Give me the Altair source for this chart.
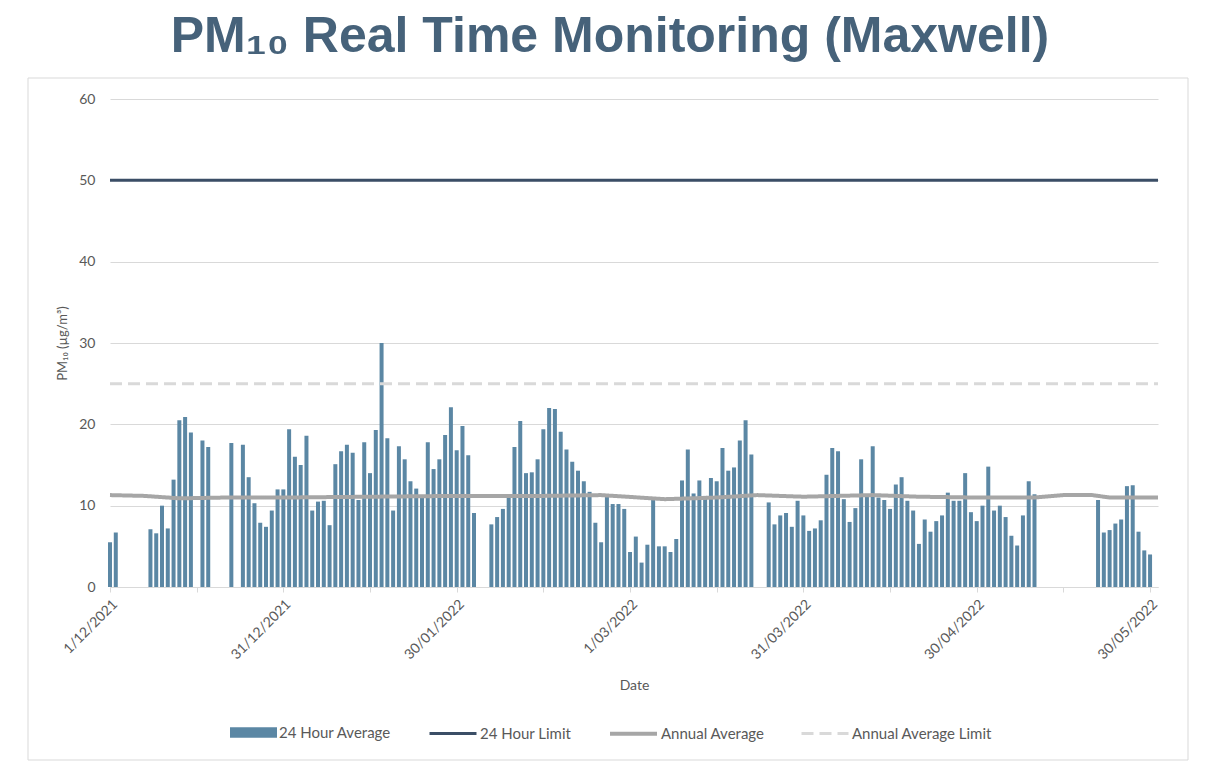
import altair as alt
import pandas as pd

# ---- data ----
start_date = "2021-12-01"
daily_pm10 = [
    5.5, 6.7, None, None, None, None, None, 7.1, 6.6, 10.0,
    7.2, 13.2, 20.5, 20.9, 19.0, None, 18.0, 17.2, None, None,
    None, 17.7, None, 17.5, 13.5, 10.3, 7.9, 7.4, 9.4, 12.0,
    12.0, 19.4, 16.0, 15.0, 18.6, 9.4, 10.5, 10.6, 7.6, 15.1,
    16.7, 17.5, 16.5, 10.7, 17.8, 14.0, 19.3, 30.0, 18.3, 9.4,
    17.3, 15.7, 13.0, 12.1, 11.3, 17.8, 14.5, 15.7, 18.7, 22.1,
    16.8, 19.8, 16.2, 9.1, None, None, 7.7, 8.6, 9.6, 11.1,
    17.2, 20.4, 14.0, 14.1, 15.7, 19.4, 22.0, 21.9, 19.1, 16.9,
    15.4, 14.3, 13.0, 11.7, 7.9, 5.5, 11.1, 10.2, 10.2, 9.6,
    4.3, 6.2, 3.0, 5.2, 10.7, 5.0, 5.0, 4.3, 5.9, 13.1,
    16.9, 11.5, 13.1, 11.2, 13.4, 13.0, 17.1, 14.3, 14.7, 18.0,
    20.5, 16.3, None, None, 10.4, 7.7, 8.8, 9.1, 7.4, 10.6,
    8.8, 6.9, 7.2, 8.2, 13.8, 17.1, 16.7, 10.8, 8.0, 9.7,
    15.7, 11.2, 17.3, 11.0, 10.7, 9.6, 12.6, 13.5, 10.6, 9.4,
    5.3, 8.3, 6.8, 8.1, 8.8, 11.6, 10.6, 10.6, 14.0, 9.2,
    8.1, 10.0, 14.8, 9.4, 10.0, 8.6, 6.3, 5.1, 8.8, 13.0,
    11.4, None, None, None, None, None, None, None, None, None,
    None, 10.7, 6.7, 7.0, 7.8, 8.3, 12.4, 12.5, 6.8, 4.5,
    4.0,
]

annual_avg_dates = [
    "2021-12-01", "2021-12-07", "2021-12-13", "2021-12-21", "2021-12-31",
    "2022-01-15", "2022-01-30", "2022-02-14", "2022-02-24", "2022-03-07",
    "2022-03-16", "2022-03-23", "2022-03-31", "2022-04-12", "2022-04-20",
    "2022-04-30", "2022-05-10", "2022-05-15", "2022-05-20", "2022-05-23",
    "2022-05-31 09:00",
]
annual_avg_values = [
    11.3, 11.2, 10.9, 11.0, 11.0,
    11.1, 11.2, 11.2, 11.3, 10.8,
    11.0, 11.3, 11.1, 11.3, 11.1,
    11.0, 11.0, 11.3, 11.3, 11.0,
    11.0,
]

limit_24h = 50
limit_annual = 25
x_start = "2021-12-01"
x_end = "2022-05-31 09:00"

bar_name = "24 Hour Average"
bar_color = "#5B87A4"
line_names = ["24 Hour Limit", "Annual Average", "Annual Average Limit"]
line_colors = ["#3B4E66", "#A6A6A6", "#D9D9D9"]
line_dash = [[1, 0], [1, 0], [12, 6]]
line_width = [3, 4, 3]

tick_dates = ["2021-12-01", "2021-12-16", "2021-12-31", "2022-01-15", "2022-01-30",
              "2022-02-14", "2022-03-01", "2022-03-16", "2022-03-31", "2022-04-15",
              "2022-04-30", "2022-05-15", "2022-05-30"]
label_texts = ["1/12/2021", "31/12/2021", "30/01/2022", "1/03/2022",
               "31/03/2022", "30/04/2022", "30/05/2022"]


def ms(d):
    return int(pd.Timestamp(d).value // 10**6)


# ---- tables (dates as UTC milliseconds) ----
dates = pd.date_range(start_date, periods=len(daily_pm10), freq="D")
bars_df = pd.DataFrame({"date": [ms(d) for d in dates], "value": daily_pm10,
                        "bar_series": bar_name}).dropna()

lines_df = pd.concat([
    pd.DataFrame({"date": [ms(x_start), ms(x_end)], "value": [limit_24h, limit_24h],
                  "series": line_names[0]}),
    pd.DataFrame({"date": [ms(d) for d in annual_avg_dates], "value": annual_avg_values,
                  "series": line_names[1]}),
    pd.DataFrame({"date": [ms(x_start), ms(x_end)], "value": [limit_annual, limit_annual],
                  "series": line_names[2]}),
], ignore_index=True)

fmt = "utcFormat(datum.value, '%-d/%m/%Y')"
label_expr = ("indexof([" + ",".join("'" + t + "'" for t in label_texts) + "], " + fmt
              + ") >= 0 ? " + fmt + " : ''")

x_scale = alt.Scale(type="utc", domain=[ms(x_start), ms(x_end)], nice=False, padding=0)
y_scale = alt.Scale(domain=[0, 60], nice=False)
FONT = "Lato"
GREY = "#595959"

x_enc = alt.X("date:T", scale=x_scale, title="Date",
              axis=alt.Axis(values=[ms(d) for d in tick_dates], labelExpr=label_expr,
                            labelAngle=-45, labelFontSize=14, labelColor=GREY, labelFont=FONT,
                            labelPadding=5, labelOverlap=False, labelBound=False, grid=False,
                            domainColor="#D9D9D9", tickColor="#D9D9D9", tickSize=5,
                            titleFontSize=14, titleColor=GREY, titleFont=FONT,
                            titleFontWeight="normal", titlePadding=17))
y_enc = alt.Y("value:Q", scale=y_scale, title="PM₁₀ (µg/m³)",
              axis=alt.Axis(values=[0, 10, 20, 30, 40, 50, 60], domain=False, ticks=False,
                            gridColor="#D9D9D9", gridWidth=1, labelFontSize=14,
                            labelColor=GREY, labelFont=FONT, labelPadding=15,
                            titleFontSize=13, titleColor=GREY, titleFont=FONT,
                            titleFontWeight="normal", titlePadding=9))

common_legend = dict(orient="none", direction="horizontal", title=None, symbolSize=2209,
                     labelFont=FONT, labelFontSize=15, labelColor=GREY,
                     columnPadding=30, symbolOpacity=1)

bar_legend = alt.Legend(legendX=120, legendY=610, symbolType="M-1,-0.22H1V0.22H-1Z",
                        symbolStrokeWidth=0, labelOffset=2, **common_legend)
line_legend = alt.Legend(legendX=318, legendY=609, symbolType="stroke", labelOffset=2,
                         **common_legend)

frame = alt.Chart(pd.DataFrame({"k": [0]})).mark_rect(
    fill=None, stroke="#D9D9D9", strokeWidth=1
).encode(x=alt.value(-82), x2=alt.value(1078), y=alt.value(-21), y2=alt.value(661))

bars = alt.Chart(bars_df).mark_bar(size=4).encode(
    x=x_enc, y=y_enc,
    color=alt.Color("bar_series:N", scale=alt.Scale(domain=[bar_name], range=[bar_color]),
                    legend=bar_legend),
)

lines = alt.Chart(lines_df).mark_line(interpolate="linear").encode(
    x=alt.X("date:T", scale=x_scale),
    y=alt.Y("value:Q", scale=y_scale),
    detail="series:N",
    stroke=alt.Stroke("series:N", scale=alt.Scale(domain=line_names, range=line_colors),
                      legend=line_legend),
    strokeDash=alt.StrokeDash("series:N", scale=alt.Scale(domain=line_names, range=line_dash),
                              legend=line_legend),
    strokeWidth=alt.StrokeWidth("series:N", scale=alt.Scale(type="ordinal", domain=line_names,
                                                            range=line_width),
                                legend=line_legend),
)

chart = alt.layer(frame, bars, lines).resolve_scale(color="independent").properties(
    width=1048, height=488,
    title=alt.TitleParams(text="PM₁₀ Real Time Monitoring (Maxwell)", fontSize=50,
                          font="Liberation Sans", fontWeight="bold", color="#46627A",
                          anchor="middle", dx=-24, offset=16),
    autosize=alt.AutoSizeParams(type="none"),
    padding={"left": 102, "top": 91, "right": 33, "bottom": 180},
    background="white",
).configure_view(stroke=None)

chart.save("out.html", embed_options={"renderer": "svg", "actions": False})
